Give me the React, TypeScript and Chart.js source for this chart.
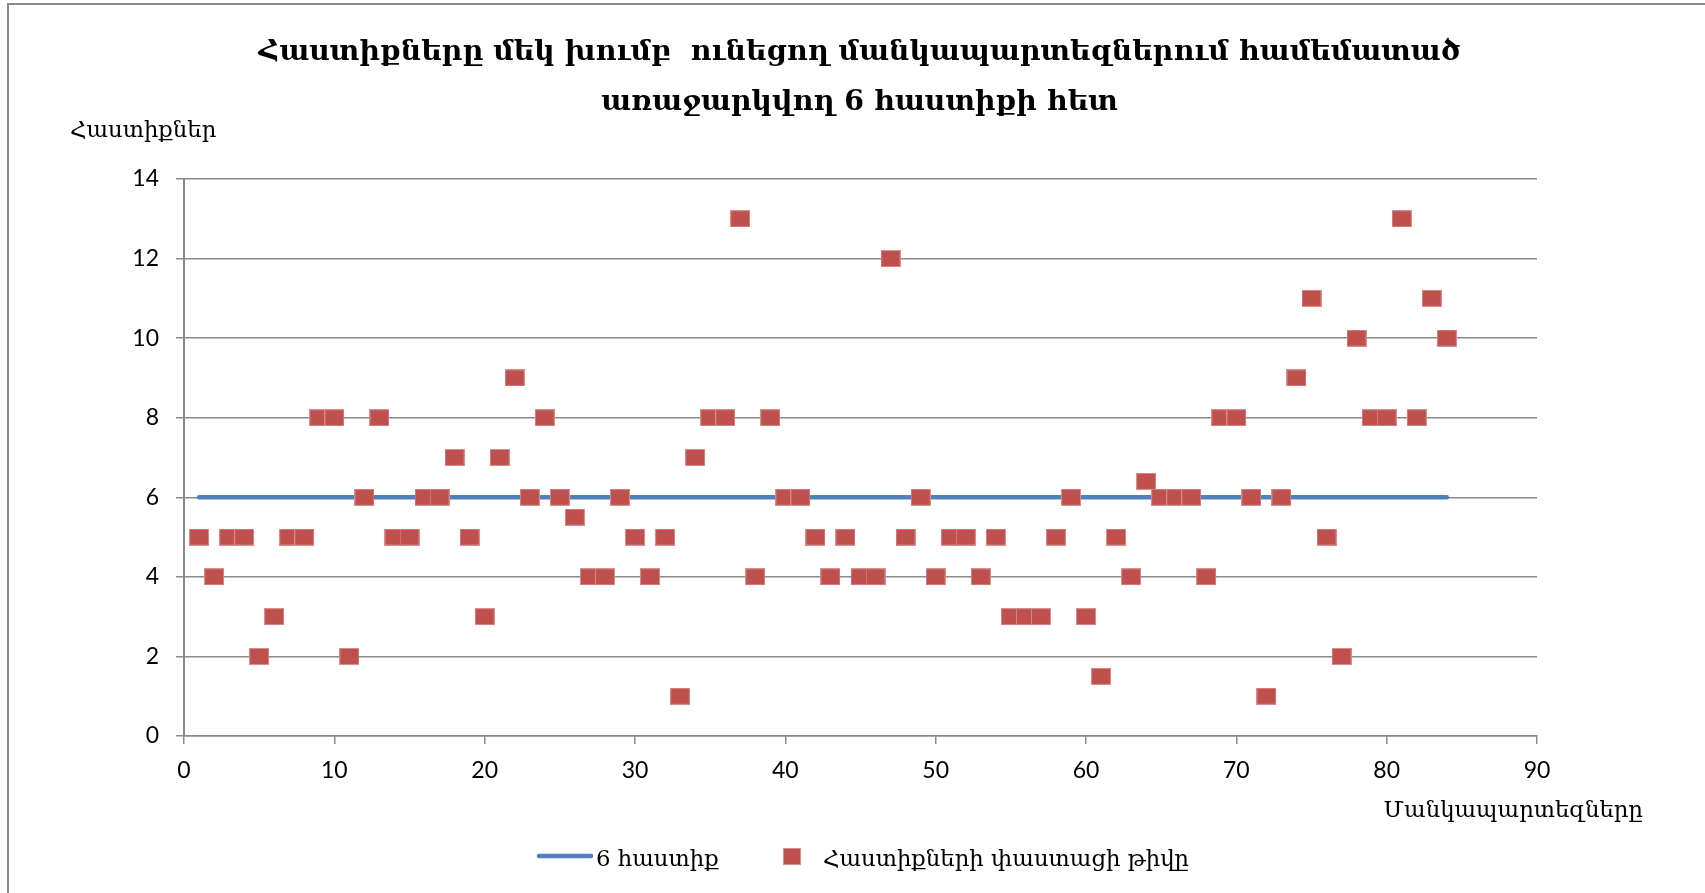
import React, { useEffect, useRef } from 'react';
import { Chart, registerables } from 'chart.js';

Chart.register(...registerables);

// ---- Texts ----
const titleLines = [
  'Հաստիքները մեկ խումբ  ունեցող մանկապարտեզներում համեմատած',
  'առաջարկվող 6 հաստիքի հետ',
];
const yAxisTitle = 'Հաստիքներ';
const xAxisTitle = 'Մանկապարտեզները';
const normLabel = '6 հաստիք';
const actualLabel = 'Հաստիքների փաստացի թիվը';

// ---- Data ----
const kindergartens = [
  1, 2, 3, 4, 5, 6, 7, 8, 9, 10,
  11, 12, 13, 14, 15, 16, 17, 18, 19, 20,
  21, 22, 23, 24, 25, 26, 27, 28, 29, 30,
  31, 32, 33, 34, 35, 36, 37, 38, 39, 40,
  41, 42, 43, 44, 45, 46, 47, 48, 49, 50,
  51, 52, 53, 54, 55, 56, 57, 58, 59, 60,
  61, 62, 63, 64, 65, 66, 67, 68, 69, 70,
  71, 72, 73, 74, 75, 76, 77, 78, 79, 80,
  81, 82, 83, 84,
];
const actualStaff = [
  5, 4, 5, 5, 2, 3, 5, 5, 8, 8,
  2, 6, 8, 5, 5, 6, 6, 7, 5, 3,
  7, 9, 6, 8, 6, 5.5, 4, 4, 6, 5,
  4, 5, 1, 7, 8, 8, 13, 4, 8, 6,
  6, 5, 4, 5, 4, 4, 12, 5, 6, 4,
  5, 5, 4, 5, 3, 3, 3, 5, 6, 3,
  1.5, 5, 4, 6.4, 6, 6, 6, 4, 8, 8,
  6, 1, 6, 9, 11, 5, 2, 10, 8, 8,
  13, 8, 11, 10,
];
const normRangeX = [1, 84];
const normStaff = [6, 6];

const xMin = 0;
const xMax = 90;
const xStep = 10;
const yMin = 0;
const yMax = 14;
const yStep = 2;

const RED = '#C0504D';
const BLUE = '#4F81BD';
const GRID = '#8a8a8a';
const SERIF = "'DejaVu Serif', serif";
const SANS = "Lato, 'Open Sans', sans-serif";

export default function App() {
  const ref = useRef<HTMLCanvasElement | null>(null);

  useEffect(() => {
    const canvas = ref.current;
    if (!canvas) return;

    const marker = document.createElement('canvas');
    marker.width = 20;
    marker.height = 17;
    const mctx = marker.getContext('2d')!;
    mctx.fillStyle = '#d68e8c';
    mctx.fillRect(0, 0, 20, 17);
    mctx.fillStyle = RED;
    mctx.fillRect(1, 1, 18, 15);

    const textPlugin = {
      id: 'extraTexts',
      afterDraw(chart: any) {
        const ctx = chart.ctx as CanvasRenderingContext2D;
        ctx.save();
        ctx.fillStyle = '#000';
        ctx.textBaseline = 'alphabetic';
        ctx.font = `22.8px ${SERIF}`;
        ctx.textAlign = 'left';
        ctx.fillText(yAxisTitle, 70, 137);
        ctx.textAlign = 'right';
        ctx.fillText(xAxisTitle, 1643, 817);

        // legend
        ctx.strokeStyle = BLUE;
        ctx.lineWidth = 4.5;
        ctx.lineCap = 'round';
        ctx.beginPath();
        ctx.moveTo(539, 856);
        ctx.lineTo(591, 856);
        ctx.stroke();
        ctx.textAlign = 'left';
        ctx.fillText(normLabel, 596, 866);
        ctx.fillStyle = '#d68e8c';
        ctx.fillRect(783, 848, 18, 17);
        ctx.fillStyle = RED;
        ctx.fillRect(784, 849, 16, 15);
        ctx.fillStyle = '#000';
        ctx.fillText(actualLabel, 823, 866);
        ctx.restore();
      },
    };

    const chart = new Chart(canvas, {
      type: 'scatter',
      data: {
        datasets: [
          {
            label: actualLabel,
            data: kindergartens.map((k, i) => ({ x: k, y: actualStaff[i] })),
            pointStyle: marker as any,
            pointRadius: 10,
            backgroundColor: RED,
            borderColor: RED,
            order: 1,
            xAxisID: 'x',
            yAxisID: 'y',
          },
          {
            label: normLabel,
            data: normRangeX.map((x, i) => ({ x, y: normStaff[i] })),
            showLine: true,
            pointRadius: 0,
            borderColor: BLUE,
            backgroundColor: BLUE,
            borderWidth: 4.5,
            borderCapStyle: 'round',
            order: 2,
            xAxisID: 'x',
            yAxisID: 'y',
          } as any,
        ],
      },
      options: {
        animation: false,
        responsive: false,
        devicePixelRatio: 1,
        layout: { padding: { left: 14, right: 0, top: 0, bottom: 0 } },
        plugins: {
          legend: { display: false },
          tooltip: { enabled: false },
          title: {
            display: true,
            text: titleLines,
            color: '#000',
            font: { family: SERIF, weight: 'bold', size: 28.4, lineHeight: '50px' } as any,
            padding: { top: 28, bottom: 51 },
          },
        },
        scales: {
          x: {
            type: 'linear',
            position: 'bottom',
            min: xMin,
            max: xMax,
            ticks: { stepSize: xStep, color: '#000', font: { family: SANS, size: 23 }, padding: 13, maxRotation: 0 },
            grid: { display: true, drawOnChartArea: false, drawTicks: true, tickLength: 8, color: GRID, lineWidth: 1.5 },
            border: { display: true, color: GRID, width: 1.5 },
            afterFit: (s: any) => { s.height = 157; },
          },
          y: {
            type: 'linear',
            position: 'left',
            min: yMin,
            max: yMax,
            ticks: { stepSize: yStep, color: '#000', font: { family: SANS, size: 23 }, padding: 17 },
            grid: { display: true, drawOnChartArea: true, drawTicks: true, tickLength: 8, color: GRID, lineWidth: 1.5 },
            border: { display: true, color: GRID, width: 2 },
            afterFit: (s: any) => { s.width = 170; },
          },
          yr: {
            type: 'linear',
            position: 'right',
            display: true,
            ticks: { display: false },
            grid: { display: false },
            border: { display: false },
            afterFit: (s: any) => { s.width = 168; },
          },
        },
      },
      plugins: [textPlugin],
    });

    return () => chart.destroy();
  }, []);

  return (
    <div style={{ position: 'absolute', left: 0, top: 0, width: 1705, height: 893, overflow: 'hidden', background: '#fff' }}>
      <canvas ref={ref} width={1705} height={893} style={{ position: 'absolute', left: 0, top: 0, width: 1705, height: 893 }} />
      <div style={{ position: 'absolute', left: 7, top: 3, width: 2000, height: 2000, borderLeft: '2px solid #8a8a8a', borderTop: '2px solid #8a8a8a', pointerEvents: 'none' }} />
    </div>
  );
}
